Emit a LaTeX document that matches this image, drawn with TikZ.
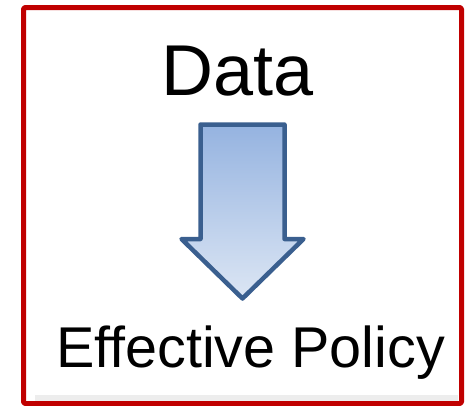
\documentclass[tikz,border=0pt]{standalone}
\usepackage{fontspec}
\setmainfont{Liberation Sans}
\definecolor{framered}{HTML}{C00000}
\definecolor{arrowline}{HTML}{3A5F8F}
\definecolor{arrowtop}{HTML}{95B3E0}
\definecolor{arrowbot}{HTML}{DCE6F4}
\begin{document}
\begin{tikzpicture}[x=1pt,y=-1pt,line join=round,
		bigtext/.style={font=\fontsize{72}{72}\selectfont,inner sep=0pt,anchor=base},
		smalltext/.style={font=\fontsize{57.5}{58}\selectfont,inner sep=0pt,anchor=base}]
		\useasboundingbox (0,0) rectangle (468,405);
		\fill[gray!14] (35,395) rectangle (458,401);
		\draw[framered,line width=5pt,rounded corners=1.5pt] (23.5,7.5) rectangle (461.5,403.5);
		% the arrow
		\draw[arrowline,line width=4.5pt,miter limit=10,top color=arrowtop,bottom color=arrowbot]
		(200.5,124.5)--(284.5,124.5)--(284.5,239)--(303.5,239)--(242.5,298.5)--(181.5,239)--(200.5,239)--cycle;
		\node[bigtext] (data) at (237.5,95) {Data};
		\node[smalltext] (policy) at (250.5,367) {Effective Policy};
		\end{tikzpicture}
\end{document}
